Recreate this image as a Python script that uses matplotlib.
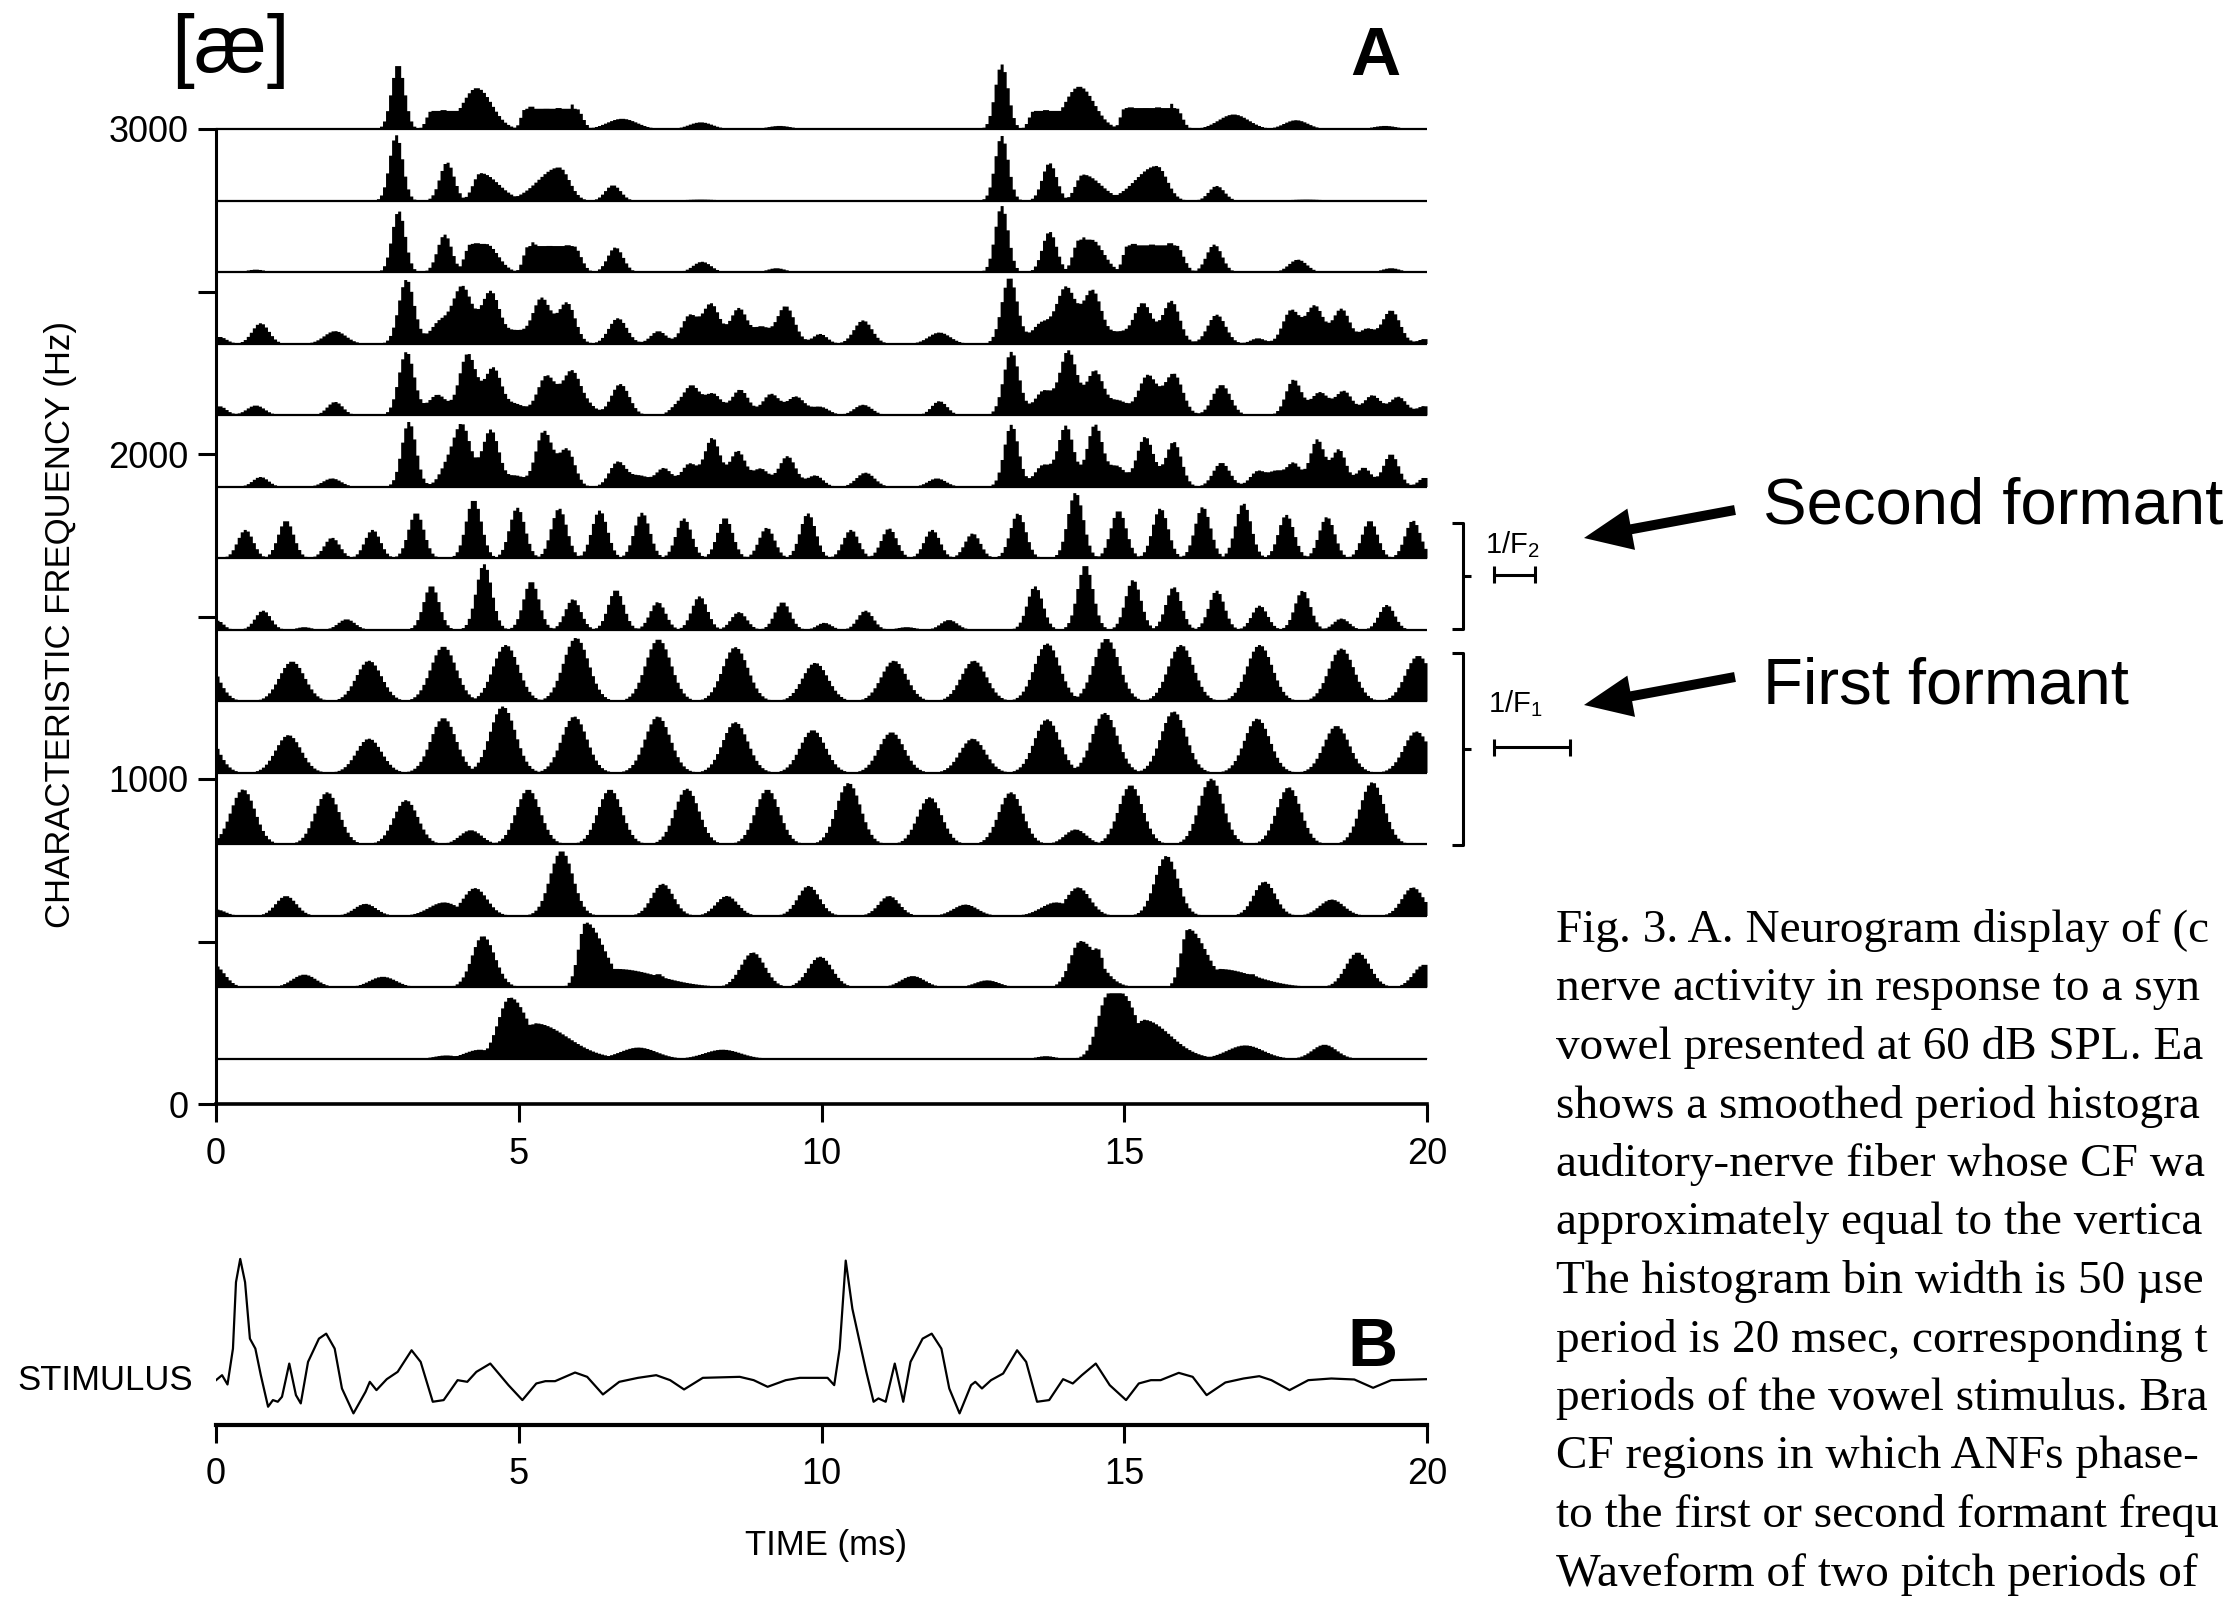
import numpy as np
import matplotlib.pyplot as plt
from matplotlib.patches import FancyArrow

plt.rcParams['font.family'] = ['Liberation Sans', 'DejaVu Sans']
plt.rcParams['mathtext.fontset'] = 'custom'
plt.rcParams['mathtext.rm'] = 'Liberation Sans'

# ---- data ----
# baseline (CF) of each histogram row, Hz, top to bottom
ROW_BASE_HZ = [3000, 2780, 2560, 2340, 2120, 1900, 1680, 1460, 1240, 1020, 800, 580, 360, 140]
AMP_HZ = 220          # one unit of peak height, in Hz of the CF axis
BIN_MS = 0.05         # histogram bin width (50 usec)

# peaks of each row, times in ms:
#   (t, height, width)  or  (t, height, rise width, fall width)
#   or (t_start, t_end, height, rise width, fall width) for a flat top
row_01 = [(0.5, 0.02, 0.2), (3.0, 0.91, 0.11), (3.55, 4.0, 0.26, 0.08, 0.15), (3.75, 0.28, 0.1),
          (4.3, 0.58, 0.24, 0.25),
          (5.1, 5.95, 0.29, 0.07, 0.1), (5.2, 0.34, 0.07), (5.45, 0.31, 0.07), (5.65, 0.32, 0.07),
          (5.87, 0.35, 0.07), (6.7, 0.15, 0.25), (8.0, 0.10, 0.2), (9.3, 0.05, 0.2),
          (12.97, 0.91, 0.11), (13.5, 13.95, 0.26, 0.08, 0.15), (13.7, 0.28, 0.1),
          (14.25, 0.6, 0.24, 0.25),
          (15.0, 15.85, 0.3, 0.07, 0.1), (15.1, 0.33, 0.07), (15.35, 0.32, 0.07), (15.55, 0.33, 0.07),
          (15.78, 0.36, 0.07), (16.8, 0.21, 0.25), (17.83, 0.13, 0.2), (19.3, 0.05, 0.2)]
row_02 = [(2.97, 0.92, 0.11), (3.81, 0.54, 0.12), (4.36, 0.39, 0.12, 0.3), (5.66, 0.47, 0.35, 0.17),
          (6.55, 0.22, 0.13), (8.0, 0.02, 0.3),
          (12.97, 0.91, 0.11), (13.76, 0.53, 0.12), (14.31, 0.37, 0.12, 0.3), (15.53, 0.49, 0.35, 0.17),
          (16.52, 0.21, 0.13), (18.0, 0.02, 0.3)]
row_03 = [(0.65, 0.04, 0.15), (3.01, 0.86, 0.11), (3.77, 0.53, 0.12), (4.2, 4.45, 0.4, 0.1, 0.2),
          (4.3, 0.43, 0.08),
          (5.15, 5.9, 0.37, 0.08, 0.12), (5.24, 0.43, 0.08), (5.5, 0.39, 0.08), (5.8, 0.4, 0.08),
          (6.59, 0.35, 0.13), (8.02, 0.15, 0.15), (9.25, 0.06, 0.15),
          (12.97, 0.93, 0.11), (13.76, 0.57, 0.12), (14.25, 14.45, 0.46, 0.1, 0.2), (14.31, 0.5, 0.08),
          (15.05, 15.85, 0.38, 0.08, 0.12), (15.15, 0.42, 0.08), (15.45, 0.41, 0.08),
          (15.75, 0.43, 0.08), (16.48, 0.39, 0.13), (17.86, 0.18, 0.15), (19.4, 0.06, 0.15)]
row_04 = [(0.05, 0.1, 0.12), (0.73, 0.29, 0.14), (1.96, 0.18, 0.18), (3.14, 0.9, 0.13),
          (3.68, 0.29, 0.15), (4.06, 0.8, 0.16), (4.53, 0.73, 0.15), (4.95, 0.17, 0.15),
          (5.37, 0.64, 0.15), (5.79, 0.57, 0.14), (6.63, 0.36, 0.15), (7.3, 0.18, 0.13),
          (7.81, 0.39, 0.13), (8.17, 0.56, 0.14), (8.63, 0.5, 0.14), (9.0, 0.22, 0.12),
          (9.4, 0.53, 0.15), (9.97, 0.14, 0.12), (10.68, 0.33, 0.15), (11.94, 0.16, 0.18),
          (13.1, 0.93, 0.13), (13.62, 0.28, 0.15), (14.03, 0.79, 0.16), (14.47, 0.74, 0.15),
          (14.9, 0.15, 0.15), (15.3, 0.57, 0.15), (15.77, 0.6, 0.14), (16.52, 0.41, 0.15),
          (17.2, 0.08, 0.12), (17.75, 0.47, 0.14), (18.14, 0.53, 0.14), (18.58, 0.49, 0.14),
          (19.0, 0.2, 0.12), (19.4, 0.47, 0.15), (19.95, 0.07, 0.1)]
row_05 = [(0.05, 0.13, 0.12), (0.65, 0.14, 0.15), (1.96, 0.19, 0.13), (3.14, 0.89, 0.13),
          (3.65, 0.29, 0.15), (4.15, 0.86, 0.14), (4.57, 0.66, 0.14), (4.95, 0.15, 0.15),
          (5.45, 0.55, 0.15), (5.87, 0.62, 0.15), (6.17, 0.1, 0.12), (6.67, 0.44, 0.15),
          (7.6, 0.12, 0.12), (7.85, 0.4, 0.13), (8.2, 0.3, 0.14), (8.65, 0.36, 0.14),
          (9.16, 0.3, 0.14), (9.57, 0.26, 0.14), (9.97, 0.12, 0.15), (10.68, 0.15, 0.15),
          (11.94, 0.2, 0.13),
          (13.13, 0.89, 0.13), (13.66, 0.34, 0.15), (14.07, 0.9, 0.14), (14.51, 0.62, 0.14),
          (14.9, 0.2, 0.15), (15.38, 0.56, 0.15), (15.81, 0.58, 0.15), (16.6, 0.43, 0.15),
          (17.79, 0.5, 0.13), (18.22, 0.32, 0.14), (18.62, 0.34, 0.14), (19.09, 0.28, 0.14),
          (19.52, 0.26, 0.14), (19.95, 0.13, 0.12)]
row_06 = [(0.73, 0.14, 0.13), (1.91, 0.12, 0.15), (3.18, 0.91, 0.12), (3.8, 0.25, 0.13),
          (4.06, 0.85, 0.14), (4.53, 0.8, 0.14), (4.95, 0.15, 0.13), (5.41, 0.78, 0.14),
          (5.79, 0.52, 0.13), (6.63, 0.35, 0.14), (7.0, 0.15, 0.15), (7.39, 0.26, 0.13),
          (7.81, 0.32, 0.13), (8.19, 0.68, 0.13), (8.61, 0.5, 0.13), (8.99, 0.25, 0.13),
          (9.43, 0.43, 0.14), (9.89, 0.16, 0.13), (10.72, 0.2, 0.15), (11.9, 0.12, 0.15),
          (13.13, 0.87, 0.12), (13.65, 0.3, 0.14), (14.03, 0.85, 0.13), (14.51, 0.87, 0.13),
          (14.88, 0.28, 0.13), (15.34, 0.7, 0.14), (15.81, 0.63, 0.13), (16.6, 0.34, 0.14),
          (17.2, 0.22, 0.13), (17.5, 0.2, 0.12), (17.79, 0.33, 0.12), (18.18, 0.66, 0.12),
          (18.54, 0.52, 0.12), (18.95, 0.27, 0.12), (19.4, 0.46, 0.13), (19.95, 0.13, 0.1)]
row_07 = [(0.48, 0.4, 0.13), (1.15, 0.53, 0.13), (1.91, 0.29, 0.13), (2.58, 0.4, 0.13),
          (3.3, 0.64, 0.13), (4.25, 0.82, 0.13), (4.97, 0.71, 0.13), (5.66, 0.7, 0.13),
          (6.33, 0.67, 0.13), (7.03, 0.64, 0.13), (7.72, 0.56, 0.13), (8.4, 0.57, 0.13),
          (9.09, 0.43, 0.13), (9.77, 0.63, 0.13), (10.48, 0.4, 0.13), (11.11, 0.42, 0.13),
          (11.82, 0.4, 0.13), (12.49, 0.35, 0.13), (13.24, 0.63, 0.13), (14.19, 0.92, 0.13),
          (14.9, 0.67, 0.13), (15.59, 0.7, 0.13), (16.29, 0.72, 0.13), (16.96, 0.77, 0.13),
          (17.67, 0.61, 0.13), (18.34, 0.58, 0.13), (19.05, 0.53, 0.13), (19.76, 0.53, 0.13)]
row_08 = [(0.02, 0.13, 0.1), (0.77, 0.27, 0.13), (1.45, 0.04, 0.12), (2.15, 0.15, 0.14),
          (3.55, 0.62, 0.13), (4.42, 0.92, 0.13), (5.2, 0.68, 0.13), (5.89, 0.43, 0.13),
          (6.6, 0.56, 0.13), (7.29, 0.39, 0.13), (7.98, 0.47, 0.13), (8.63, 0.25, 0.13),
          (9.35, 0.39, 0.13), (10.04, 0.1, 0.12), (10.72, 0.27, 0.13), (11.4, 0.04, 0.15),
          (12.1, 0.14, 0.14), (13.52, 0.61, 0.13), (14.35, 0.91, 0.13), (15.14, 0.7, 0.13),
          (15.81, 0.6, 0.13), (16.52, 0.55, 0.13), (17.23, 0.34, 0.13), (17.94, 0.55, 0.13),
          (18.58, 0.16, 0.13), (19.33, 0.35, 0.13)]
row_09 = [(-0.2, 0.62, 0.21), (1.25, 0.56, 0.21), (2.52, 0.57, 0.21), (3.75, 0.77, 0.21),
          (4.78, 0.79, 0.21), (5.94, 0.89, 0.21), (7.3, 0.87, 0.21), (8.57, 0.76, 0.21),
          (9.89, 0.54, 0.21), (11.19, 0.57, 0.21), (12.51, 0.57, 0.21), (13.72, 0.81, 0.21),
          (14.7, 0.88, 0.21), (15.93, 0.79, 0.21), (17.23, 0.79, 0.21), (18.58, 0.74, 0.21),
          (19.85, 0.64, 0.21)]
row_10 = [(-0.2, 0.6, 0.21), (1.19, 0.53, 0.21), (2.52, 0.48, 0.21), (3.75, 0.77, 0.21),
          (4.73, 0.93, 0.21), (5.91, 0.79, 0.21), (7.29, 0.79, 0.21), (8.57, 0.71, 0.21),
          (9.85, 0.6, 0.21), (11.15, 0.57, 0.21), (12.49, 0.48, 0.21), (13.72, 0.75, 0.21),
          (14.67, 0.84, 0.21), (15.81, 0.86, 0.21), (17.19, 0.76, 0.21), (18.5, 0.66, 0.21),
          (19.82, 0.58, 0.21)]
row_11 = [(0.44, 0.77, 0.2), (1.83, 0.73, 0.2), (3.13, 0.62, 0.2), (4.2, 0.2, 0.18),
          (5.15, 0.77, 0.2), (6.5, 0.77, 0.2), (7.77, 0.78, 0.2), (9.1, 0.77, 0.2),
          (10.44, 0.86, 0.2), (11.78, 0.66, 0.2), (13.12, 0.73, 0.2), (14.19, 0.21, 0.18),
          (15.1, 0.83, 0.2), (16.43, 0.92, 0.2), (17.71, 0.8, 0.2), (19.09, 0.87, 0.2)]
row_12 = [(0.0, 0.09, 0.15), (1.15, 0.28, 0.17), (2.46, 0.17, 0.18), (3.76, 0.19, 0.25),
          (4.27, 0.39, 0.2), (5.7, 0.91, 0.19), (7.37, 0.45, 0.18), (8.43, 0.28, 0.18),
          (9.78, 0.42, 0.18), (11.11, 0.28, 0.17), (12.37, 0.16, 0.2), (13.87, 0.19, 0.25),
          (14.23, 0.4, 0.2), (15.69, 0.84, 0.19), (17.31, 0.48, 0.18), (18.42, 0.23, 0.2),
          (19.76, 0.4, 0.18)]
row_13 = [(-0.05, 0.32, 0.18), (1.45, 0.18, 0.2), (2.75, 0.15, 0.22), (4.4, 0.72, 0.18, 0.2),
          (6.1, 0.91, 0.12, 0.3), (6.6, 0.26, 0.1, 0.7), (7.3, 0.19, 0.12),
          (8.86, 0.49, 0.2), (9.97, 0.43, 0.2), (11.5, 0.16, 0.2), (12.73, 0.1, 0.2),
          (14.27, 0.65, 0.17, 0.3), (14.55, 0.55, 0.25, 0.1),
          (16.05, 0.82, 0.12, 0.3), (16.55, 0.26, 0.1, 0.6), (17.1, 0.19, 0.12),
          (18.85, 0.49, 0.2), (19.95, 0.32, 0.18)]
row_14 = [(2.0, 0.01, 1.5), (3.8, 0.05, 0.2), (4.35, 0.13, 0.25), (4.85, 0.86, 0.2, 0.3),
          (5.25, 0.5, 0.1, 0.55), (6.97, 0.16, 0.3), (8.36, 0.13, 0.3), (11.0, 0.01, 1.5),
          (13.7, 0.04, 0.15), (14.74, 14.95, 0.92, 0.18, 0.25), (15.3, 0.55, 0.1, 0.45),
          (16.99, 0.19, 0.3), (18.3, 0.2, 0.2), (19.0, 0.01, 1.0)]
ROW_PEAKS = [row_01, row_02, row_03, row_04, row_05, row_06, row_07,
             row_08, row_09, row_10, row_11, row_12, row_13, row_14]
# rows whose close peaks add up (True) or only overlap (False)
ROW_ADDS = [False, False, False, True, True, True, False,
            False, False, False, False, False, False, False]

# formant period scale bars, ms
F1_PERIOD = 1.26
F2_PERIOD = 0.68

# stimulus waveform (time ms, amplitude)
stim_t = [0.0, 0.10, 0.19, 0.28, 0.33, 0.40, 0.48, 0.56, 0.65, 0.74, 0.86, 0.94, 1.02, 1.09,
          1.21, 1.32, 1.40, 1.52, 1.70, 1.82, 1.96, 2.08, 2.27, 2.47, 2.54, 2.65, 2.82, 3.00,
          3.23, 3.38, 3.58, 3.76, 3.99, 4.15, 4.30, 4.53, 4.83, 5.06, 5.29, 5.44, 5.60, 5.93,
          6.13, 6.39, 6.66, 6.97, 7.27, 7.50, 7.73, 8.04, 8.65, 8.88, 9.11, 9.41, 9.64, 10.10,
          10.21, 10.30, 10.40, 10.51, 10.63, 10.74, 10.86, 10.94, 11.06, 11.21, 11.35, 11.47,
          11.67, 11.82, 11.98, 12.11, 12.28, 12.47, 12.54, 12.65, 12.80, 13.00, 13.23, 13.38,
          13.56, 13.76, 13.99, 14.15, 14.30, 14.53, 14.76, 15.03, 15.24, 15.44, 15.60, 15.90,
          16.13, 16.36, 16.67, 16.97, 17.23, 17.43, 17.73, 18.04, 18.42, 18.80, 19.11, 19.41,
          20.0]
stim_v = [-5, 10, -18, 90, 290, 360, 290, 120, 90, 10, -85, -65, -70, -55,
          45, -50, -75, 50, 120, 135, 90, -30, -105, -40, -10, -35, -2, 20,
          85, 50, -70, -65, -5, -10, 20, 45, -20, -65, -15, -8, -8, 18,
          5, -48, -10, 2, 10, -5, -33, 2, 5, -5, -25, -5, 2, 2,
          -20, 90, 355, 210, 110, 20, -70, -60, -70, 45, -70, 50,
          120, 135, 90, -30, -105, -20, -10, -30, -5, 15, 85, 50,
          -70, -65, -2, -15, 10, 45, -20, -65, -15, -5, -5, 17,
          5, -50, -12, 0, 7, -5, -35, -5, 0, -3, -28, -5,
          -2]

time_ticks = [0, 5, 10, 15, 20]

caption = ["Fig. 3. A. Neurogram display of (c",
           "nerve activity in response to a syn",
           "vowel presented at 60 dB SPL. Ea",
           "shows a smoothed period histogra",
           "auditory-nerve fiber whose CF wa",
           "approximately equal to the vertica",
           "The histogram bin width is 50 \u00b5se",
           "period is 20 msec, corresponding t",
           "periods of the vowel stimulus. Bra",
           "CF regions in which ANFs phase-",
           "to the first or second formant frequ",
           "Waveform of two pitch periods of"]

# ---- figure ----
W, H = 2228, 1598
fig = plt.figure(figsize=(W / 100, H / 100), dpi=100)


def fx(px):
    return px / W


def fy(py):
    return 1 - py / H


def bump(t, spec):
    if len(spec) == 3:
        t1 = t2 = spec[0]
        a, sl, sr = spec[1], spec[2], spec[2]
    elif len(spec) == 4:
        t1 = t2 = spec[0]
        a, sl, sr = spec[1], spec[2], spec[3]
    else:
        t1, t2, a, sl, sr = spec
    d = np.where(t < t1, (t1 - t) / sl, np.where(t > t2, (t - t2) / sr, 0.0))
    return a * np.exp(-0.5 * d ** 2)


def row_curve(peaks, t, adds):
    env = np.zeros_like(t)
    for spec in peaks:
        b = bump(t, spec)
        env = env + b if adds else np.maximum(env, b)
    return env


# panel A: neurogram
ax = fig.add_axes([fx(216), fy(1104), (1427 - 216) / W, (1104 - 40) / H])
ax.set_xlim(0, 20)
ax.set_ylim(0, 3000 * 1064 / 975)

edges = np.arange(0, 20 + BIN_MS / 2, BIN_MS)
centers = edges[:-1] + BIN_MS / 2
for base, peaks, adds in zip(ROW_BASE_HZ, ROW_PEAKS, ROW_ADDS):
    y = base + row_curve(peaks, centers, adds) * AMP_HZ
    y = np.append(y, y[-1])
    ax.fill_between(edges, base, y, step='post', color='black', lw=0)
    ax.plot([0, 20], [base, base], color='black', lw=1.6, solid_capstyle='butt')

for side in ['top', 'right']:
    ax.spines[side].set_visible(False)
ax.spines['left'].set_bounds(0, 3000)
ax.spines['left'].set_linewidth(2.2)
ax.spines['bottom'].set_linewidth(2.6)
ax.set_yticks([0, 1000, 2000, 3000])
ax.set_yticks([500, 1500, 2500], minor=True)
ax.set_xticks(time_ticks)
ax.tick_params(which='both', direction='out', length=13, width=2.2, labelsize=26)
ax.tick_params(axis='y', pad=7)
ax.tick_params(axis='x', pad=11)

# formant brackets and period bars
bk = dict(color='black', lw=2.2, clip_on=False, solid_capstyle='butt')
for lo, hi in [(1462, 1788), (797, 1388)]:
    ax.plot([20.42, 20.6, 20.6, 20.42], [hi, hi, lo, lo], **bk)
    ax.plot([20.6, 20.72], [(lo + hi) / 2, (lo + hi) / 2], **bk)
for yb, per in [(1628, F2_PERIOD), (1098, F1_PERIOD)]:
    ax.plot([21.1, 21.1 + per], [yb, yb], **bk)
    for xe in [21.1, 21.1 + per]:
        ax.plot([xe, xe], [yb - 26, yb + 26], **bk)
ax.text(20.95, 1695, '1/F$_\\mathregular{2}$', fontsize=21, ha='left', va='baseline')
ax.text(21.0, 1205, '1/F$_\\mathregular{1}$', fontsize=21, ha='left', va='baseline')

fig.text(fx(61), fy(625), 'CHARACTERISTIC FREQUENCY (Hz)', rotation=90,
         fontsize=25, ha='center', va='center')
fig.text(fx(230), fy(72), '[\u00e6]', fontsize=59, ha='center', va='baseline')
fig.text(fx(1375), fy(75), 'A', fontsize=50, fontweight='bold', ha='center', va='baseline')

# panel B: stimulus
axb = fig.add_axes([fx(216), fy(1425), (1427 - 216) / W, (1425 - 1240) / H])
axb.set_xlim(0, 20)
axb.set_ylim(-140, 417)
axb.plot(stim_t, stim_v, color='black', lw=1.6)
for side in ['top', 'right', 'left']:
    axb.spines[side].set_visible(False)
axb.spines['bottom'].set_linewidth(3)
axb.set_yticks([])
axb.set_xticks(time_ticks)
axb.tick_params(axis='x', direction='out', length=13, width=2.2, labelsize=26, pad=10)
fig.text(fx(826), fy(1545), 'TIME (ms)', fontsize=25, ha='center', va='center')
fig.text(fx(105), fy(1381), 'STIMULUS', fontsize=25, ha='center', va='center')
fig.text(fx(1372), fy(1366), 'B', fontsize=50, fontweight='bold', ha='center', va='baseline')

# arrows and formant labels (pixel overlay)
ov = fig.add_axes([0, 0, 1, 1])
ov.set_xlim(0, W)
ov.set_ylim(H, 0)
ov.axis('off')
for ty in [510, 677]:
    ov.add_patch(FancyArrow(1735, ty, 1584 - 1735, 28, width=10, head_width=42,
                            head_length=48, length_includes_head=True,
                            color='black', lw=0))
ov.text(1763, 523, 'Second formant', fontsize=47, ha='left', va='baseline')
ov.text(1763, 703, 'First formant', fontsize=47, ha='left', va='baseline')

for i, line in enumerate(caption):
    ov.text(1556, 942 + 58.5 * i, line, fontsize=34, family='Liberation Serif',
            ha='left', va='baseline')

fig.savefig('out.png', dpi=100)
